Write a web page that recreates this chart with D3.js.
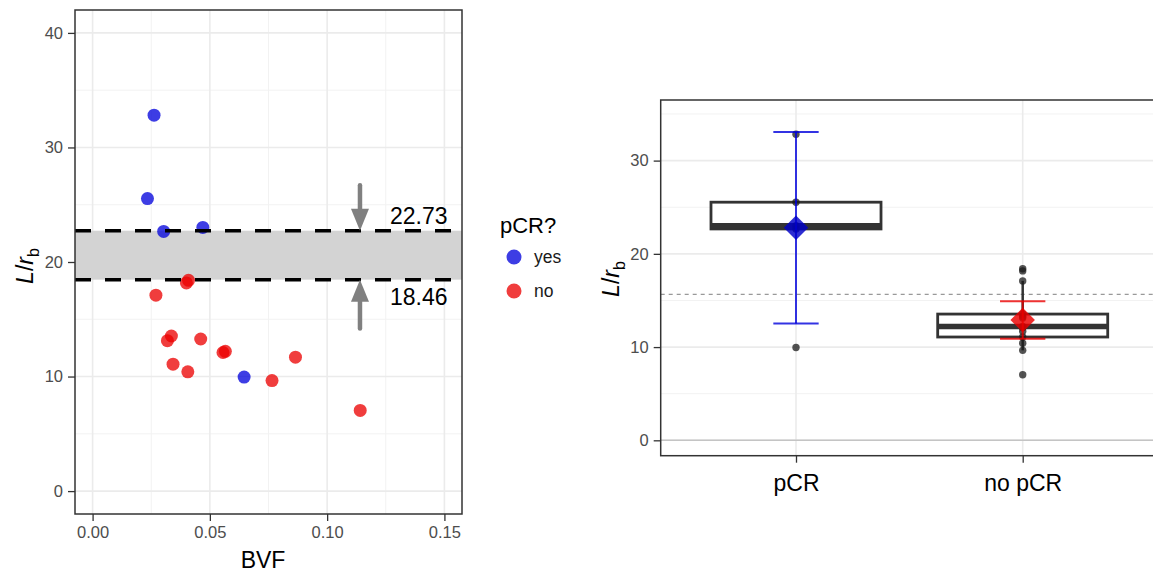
<!DOCTYPE html>
<html>
<head>
<meta charset="utf-8">
<script src="https://cdn.jsdelivr.net/npm/d3@7"></script>
<style>
  body { margin: 0; background: #fff; }
  svg { font-family: "Liberation Sans", Arial, sans-serif; }
</style>
</head>
<body>
<svg id="chart" width="1153" height="572"></svg>
<script>
// left panel: BVF vs L/rb, coloured by pCR
const yesBVF = [0.0262, 0.0234, 0.0303, 0.0470, 0.0646];
const yesLrb = [32.82, 25.54, 22.67, 23.02, 9.95];
const noBVF = [0.0409, 0.0400, 0.0270, 0.0336, 0.0319, 0.0461, 0.0556, 0.0566, 0.0343, 0.0406, 0.0765, 0.0865, 0.1141];
const noLrb = [18.40, 18.17, 17.10, 13.54, 13.13, 13.28, 12.10, 12.20, 11.08, 10.41, 9.65, 11.69, 7.04];
const thresholds = [18.46, 22.73];
const arrowFrom = [14.2, 26.7];
const arrowX = 0.114;
const xTicks = [0, 0.05, 0.10, 0.15];
const yTicksLeft = [0, 10, 20, 30, 40];

// right panel: boxplots
const categories = ['pCR', 'no pCR'];
const yTicksRight = [0, 10, 20, 30];
const t975 = {4: 2.776, 12: 2.179};   // t quantiles for 95% CI

const svg = d3.select('#chart');
const font = '"Liberation Sans", Arial, sans-serif';
const blue = 'rgb(0,0,220)', red = 'rgb(235,0,0)';

// ---------- left panel ----------
const L = {left: 75, right: 462, top: 10, bottom: 514};
const x = d3.scaleLinear().domain([-0.0075, 0.1575]).range([L.left, L.right]);
const y = d3.scaleLinear().domain([-2, 42]).range([L.bottom, L.top]);

const lp = svg.append('g');
lp.append('rect').attr('x', L.left).attr('y', L.top)
    .attr('width', L.right - L.left).attr('height', L.bottom - L.top).attr('fill', '#fff');

// grid
[0.025, 0.075, 0.125].forEach(v => lp.append('line').attr('x1', x(v)).attr('x2', x(v))
    .attr('y1', L.top).attr('y2', L.bottom).attr('stroke', '#f2f2f2').attr('stroke-width', 1));
[5, 15, 25, 35].forEach(v => lp.append('line').attr('y1', y(v)).attr('y2', y(v))
    .attr('x1', L.left).attr('x2', L.right).attr('stroke', '#f2f2f2').attr('stroke-width', 1));
xTicks.forEach(v => lp.append('line').attr('x1', x(v)).attr('x2', x(v))
    .attr('y1', L.top).attr('y2', L.bottom).attr('stroke', '#ebebeb').attr('stroke-width', 1.6));
yTicksLeft.forEach(v => lp.append('line').attr('y1', y(v)).attr('y2', y(v))
    .attr('x1', L.left).attr('x2', L.right).attr('stroke', '#ebebeb').attr('stroke-width', 1.6));

// threshold band
lp.append('rect').attr('x', L.left).attr('width', L.right - L.left)
    .attr('y', y(thresholds[1])).attr('height', y(thresholds[0]) - y(thresholds[1]))
    .attr('fill', '#d3d3d3');

// points
const pts = yesBVF.map((d, i) => ({x: d, y: yesLrb[i], c: blue}))
    .concat(noBVF.map((d, i) => ({x: d, y: noLrb[i], c: red})));
lp.selectAll('circle.pt').data(pts).enter().append('circle')
    .attr('cx', d => x(d.x)).attr('cy', d => y(d.y)).attr('r', 6.5)
    .attr('fill', d => d.c).attr('fill-opacity', 0.76);

// dashed thresholds
thresholds.forEach(t => lp.append('line').attr('x1', L.left).attr('x2', L.right)
    .attr('y1', y(t)).attr('y2', y(t)).attr('stroke', '#000').attr('stroke-width', 3.5)
    .attr('stroke-dasharray', '16,14'));

// arrows
thresholds.forEach((t, i) => {
    const x0 = x(arrowX), yTip = y(t), yStart = y(arrowFrom[i]);
    const dir = yTip > yStart ? 1 : -1;
    lp.append('line').attr('x1', x0).attr('x2', x0).attr('y1', yStart).attr('y2', yTip - dir * 12)
        .attr('stroke', '#808080').attr('stroke-width', 4.5).attr('stroke-linecap', 'round');
    lp.append('path')
        .attr('d', `M${x0},${yTip} L${x0 - 9},${yTip - dir * 22} L${x0 + 9},${yTip - dir * 22} Z`)
        .attr('fill', '#808080');
});
lp.append('text').attr('x', x(arrowX) + 30).attr('y', y(thresholds[1]) - 7)
    .attr('font-size', 23).attr('fill', '#000').text('22.73');
lp.append('text').attr('x', x(arrowX) + 30).attr('y', y(thresholds[0]) + 25)
    .attr('font-size', 23).attr('fill', '#000').text('18.46');

// border
lp.append('rect').attr('x', L.left).attr('y', L.top)
    .attr('width', L.right - L.left).attr('height', L.bottom - L.top)
    .attr('fill', 'none').attr('stroke', '#333').attr('stroke-width', 1.5);

// axes
const xAxisL = lp.append('g').attr('transform', `translate(0,${L.bottom})`)
    .call(d3.axisBottom(x).tickValues(xTicks).tickFormat(d3.format('.2f')).tickSize(7).tickPadding(5));
const yAxisL = lp.append('g').attr('transform', `translate(${L.left},0)`)
    .call(d3.axisLeft(y).tickValues(yTicksLeft).tickSize(7).tickPadding(5));
[xAxisL, yAxisL].forEach(a => {
    a.select('.domain').remove();
    a.selectAll('line').attr('stroke', '#333').attr('stroke-width', 1.3);
    a.selectAll('text').attr('font-size', 16.5).attr('fill', '#4d4d4d').attr('font-family', font);
});
lp.append('text').attr('x', 263).attr('y', 568).attr('text-anchor', 'middle')
    .attr('font-size', 23).text('BVF');

function yTitle(g, cx, cy) {
    const t = g.append('text').attr('transform', `translate(${cx},${cy}) rotate(-90)`)
        .attr('text-anchor', 'middle').attr('font-size', 23);
    t.append('tspan').attr('font-style', 'italic').text('L');
    t.append('tspan').text('/');
    t.append('tspan').attr('font-style', 'italic').text('r');
    t.append('tspan').attr('font-size', 16).attr('dy', 6).text('b');
}
yTitle(lp, 33, 266);

// legend
const lg = svg.append('g');
lg.append('text').attr('x', 500).attr('y', 233).attr('font-size', 22).text('pCR?');
[['yes', blue], ['no', red]].forEach((d, i) => {
    lg.append('circle').attr('cx', 514).attr('cy', 257 + i * 34).attr('r', 7.5)
        .attr('fill', d[1]).attr('fill-opacity', 0.76);
    lg.append('text').attr('x', 534).attr('y', 263 + i * 34).attr('font-size', 17.5)
        .attr('fill', '#1a1a1a').text(d[0]);
});

// ---------- right panel ----------
const R = {left: 660.7, right: 1159, top: 100, bottom: 455.7};
const xb = d3.scalePoint().domain(categories).range([796, 1022.7]);
const band = xb.step();
const yb = d3.scaleLinear().domain([-1.65, 36.5]).range([R.bottom, R.top]);

const rp = svg.append('g');
[5, 15, 25, 35].forEach(v => rp.append('line').attr('y1', yb(v)).attr('y2', yb(v))
    .attr('x1', R.left).attr('x2', R.right).attr('stroke', '#f2f2f2').attr('stroke-width', 1));
yTicksRight.forEach(v => rp.append('line').attr('y1', yb(v)).attr('y2', yb(v))
    .attr('x1', R.left).attr('x2', R.right).attr('stroke', '#ebebeb').attr('stroke-width', 1.6));
categories.forEach(c => rp.append('line').attr('x1', xb(c)).attr('x2', xb(c))
    .attr('y1', R.top).attr('y2', R.bottom).attr('stroke', '#ebebeb').attr('stroke-width', 1.6));

// zero line and grand mean
rp.append('line').attr('x1', R.left).attr('x2', R.right).attr('y1', yb(0)).attr('y2', yb(0))
    .attr('stroke', '#c4c4c4').attr('stroke-width', 1.6);
const allVals = yesLrb.concat(noLrb);
rp.append('line').attr('x1', R.left).attr('x2', R.right)
    .attr('y1', yb(d3.mean(allVals))).attr('y2', yb(d3.mean(allVals)))
    .attr('stroke', '#999').attr('stroke-width', 1.3).attr('stroke-dasharray', '4,4');

const groups = [
    {cat: 'pCR', vals: yesLrb, col: blue, dia: 'rgb(0,0,200)'},
    {cat: 'no pCR', vals: noLrb, col: red, dia: 'rgb(235,0,0)'}
];
groups.forEach(g => {
    const s = g.vals.slice().sort(d3.ascending);
    const q1 = d3.quantile(s, 0.25), med = d3.quantile(s, 0.5), q3 = d3.quantile(s, 0.75);
    const iqr = q3 - q1;
    const lo = d3.min(s.filter(v => v >= q1 - 1.5 * iqr));
    const hi = d3.max(s.filter(v => v <= q3 + 1.5 * iqr));
    const cx = xb(g.cat), hw = band * 0.75 / 2;
    // whiskers
    rp.append('line').attr('x1', cx).attr('x2', cx).attr('y1', yb(q3)).attr('y2', yb(hi))
        .attr('stroke', '#333').attr('stroke-width', 2.5);
    rp.append('line').attr('x1', cx).attr('x2', cx).attr('y1', yb(q1)).attr('y2', yb(lo))
        .attr('stroke', '#333').attr('stroke-width', 2.5);
    // box
    rp.append('rect').attr('x', cx - hw).attr('width', hw * 2)
        .attr('y', yb(q3)).attr('height', yb(q1) - yb(q3))
        .attr('fill', '#fff').attr('stroke', '#333').attr('stroke-width', 2.8);
    rp.append('line').attr('x1', cx - hw).attr('x2', cx + hw).attr('y1', yb(med)).attr('y2', yb(med))
        .attr('stroke', '#333').attr('stroke-width', 5.5);
    // data dots
    rp.selectAll(null).data(g.vals).enter().append('circle')
        .attr('cx', cx).attr('cy', d => yb(d)).attr('r', 3.7)
        .attr('fill', '#1a1a1a').attr('fill-opacity', 0.75);
    // mean and 95% CI
    const m = d3.mean(g.vals), se = d3.deviation(g.vals) / Math.sqrt(g.vals.length);
    const ci = t975[g.vals.length - 1] * se;
    const cw = band * 0.2 / 2;
    rp.append('line').attr('x1', cx).attr('x2', cx).attr('y1', yb(m - ci)).attr('y2', yb(m + ci))
        .attr('stroke', g.col).attr('stroke-width', 2).attr('stroke-opacity', 0.8);
    [m - ci, m + ci].forEach(v => rp.append('line').attr('x1', cx - cw).attr('x2', cx + cw)
        .attr('y1', yb(v)).attr('y2', yb(v))
        .attr('stroke', g.col).attr('stroke-width', 2).attr('stroke-opacity', 0.8));
    rp.append('path').attr('d', d3.symbol().type(d3.symbolSquare).size(300)())
        .attr('transform', `translate(${cx},${yb(m)}) rotate(45)`)
        .attr('fill', g.dia).attr('fill-opacity', 0.82);
});

// border
rp.append('rect').attr('x', R.left).attr('y', R.top)
    .attr('width', R.right - R.left).attr('height', R.bottom - R.top)
    .attr('fill', 'none').attr('stroke', '#333').attr('stroke-width', 1.5);

const xAxisR = rp.append('g').attr('transform', `translate(0,${R.bottom})`)
    .call(d3.axisBottom(xb).tickSize(7).tickPadding(8));
const yAxisR = rp.append('g').attr('transform', `translate(${R.left},0)`)
    .call(d3.axisLeft(yb).tickValues(yTicksRight).tickSize(7).tickPadding(5));
[xAxisR, yAxisR].forEach(a => {
    a.select('.domain').remove();
    a.selectAll('line').attr('stroke', '#333').attr('stroke-width', 1.3);
    a.selectAll('text').attr('font-family', font);
});
yAxisR.selectAll('text').attr('font-size', 16.5).attr('fill', '#4d4d4d');
xAxisR.selectAll('text').attr('font-size', 23).attr('fill', '#000').attr('y', 35).attr('dy', 0);
yTitle(rp, 619, 279);
</script>
</body>
</html>
